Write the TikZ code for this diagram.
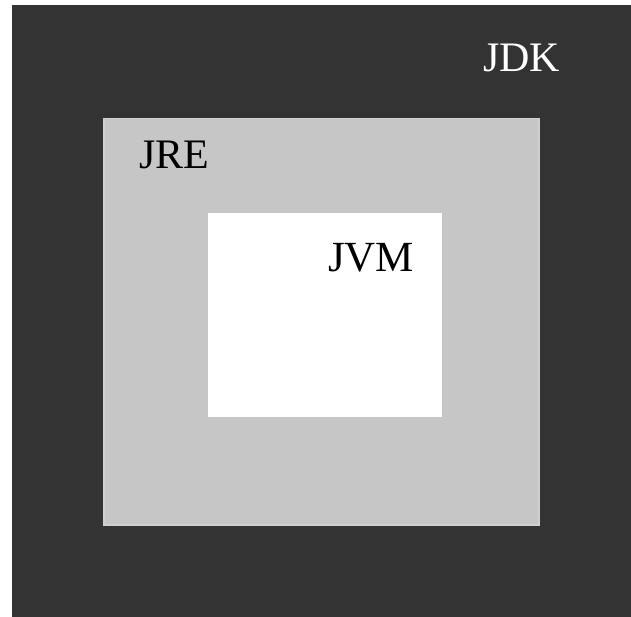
\documentclass[tikz,border=0pt]{standalone}
\usepackage{fontspec}
\setmainfont{Liberation Serif}
\usepackage{xcolor}
\usetikzlibrary{positioning}
\definecolor{jdkgray}{RGB}{51,51,51}
\definecolor{jregray}{RGB}{198,198,198}
\definecolor{jreedge}{RGB}{208,208,208}

\begin{document}
\begin{tikzpicture}[x=1pt, y=-1pt]
    \tikzstyle{layer} = [rectangle, inner sep=0pt, anchor=north west]
    \tikzstyle{tag} = [inner sep=0pt, anchor=base west, font=\fontsize{42}{48}\selectfont]

    \useasboundingbox (0,0) rectangle (631,617);
    \fill [white] (0,0) rectangle (631,617);

    % nested boxes
    \node [layer, fill=jdkgray, minimum width=619pt, minimum height=612pt] (jdk) at (12,5) {};
    \node [layer, fill=jregray, draw=jreedge, line width=1.5pt, minimum width=435pt, minimum height=406pt] (jre) at (103,118) {};
    \node [layer, fill=white, minimum width=234pt, minimum height=204pt] (jvm) at (208,213) {};

    % labels
    \node [tag, text=white] (jdklabel) at (483,72) {JDK};
    \node [tag, text=black] (jrelabel) at (139,169) {JRE};
    \node [tag, text=black, font=\fontsize{43}{48}\selectfont] (jvmlabel) at (328,272) {JVM};
\end{tikzpicture}
\end{document}
